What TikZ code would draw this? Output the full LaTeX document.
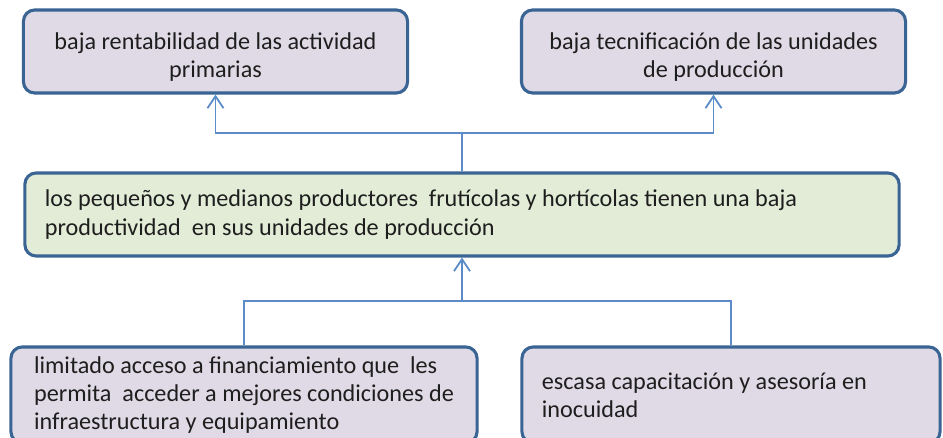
\documentclass[tikz,border=0pt]{standalone}
\usepackage{fontspec}
\setmainfont{Carlito}
\usetikzlibrary{arrows.meta, positioning, calc}
\definecolor{c1}{HTML}{1E1E1E}
\definecolor{c2}{HTML}{3A6494}
\definecolor{c3}{HTML}{5B8CC8}
\definecolor{c4}{HTML}{DFDAE5}
\definecolor{c5}{HTML}{E2ECD7}

\begin{document}
\begin{tikzpicture}[
    x=0.025cm, y=-0.025cm,
    every node/.style={font=\fontsize{17.2pt}{20pt}\selectfont, text=c1},
    conn/.style={line width=1.3pt, color=c3},
    arr/.style={conn, -{Straight Barb[length=3mm, width=4mm, line width=1.3pt]}},
    box/.style={
        rectangle, rounded corners=0.28cm, draw=c2, fill=c4,
        line width=2.2pt, minimum height=2.075cm,
    },
    effbox/.style={box, align=center, minimum width=9.6cm, text height=39.5pt},
    corebox/.style={box, fill=c5, align=flush left, inner xsep=0.5cm,
        text width=20.85cm},
    causebox/.style={box, align=flush left, minimum height=2.4cm},
]
\useasboundingbox (0,0) rectangle (943,438);
\clip (0,0) rectangle (943,438);

% ================================================================ effects
\node[effbox] (effA) at (215.5, 51.5)
    {baja rentabilidad de las actividad\\primarias};
\node[effbox] (effB) at (713.5, 51.5)
    {baja tecnificación de las unidades\\de producción};

% ================================================================ core problem
\node[corebox] (core) at (462, 214.5)
    {los pequeños y medianos productores\ \ frutícolas y hortícolas tienen una baja\\
     productividad\ \ en sus unidades de producción};

% ================================================================ causes
\node[causebox, minimum width=11.65cm] (causeA) at (244, 395)
    {limitado acceso a financiamiento que\ \ les\\
     permita\ \ acceder a mejores condiciones de\\
     infraestructura y equipamiento};
\node[causebox, inner xsep=0.5cm, text width=9.45cm] (causeB) at (731, 395)
    {escasa capacitación y asesoría en\\inocuidad};

% ================================================================ connectors
\coordinate (split) at (462, 133);
\coordinate (join) at (462, 301);
\draw[conn] (core.north) -- (split);
\draw[arr] (split) -| (effA.south);
\draw[arr] (split) -| (effB.south);

\draw[conn] (causeA.north) |- (join);
\draw[conn] (causeB.north) |- (join);
\draw[arr] (join) -- (core.south);

\end{tikzpicture}
\end{document}
